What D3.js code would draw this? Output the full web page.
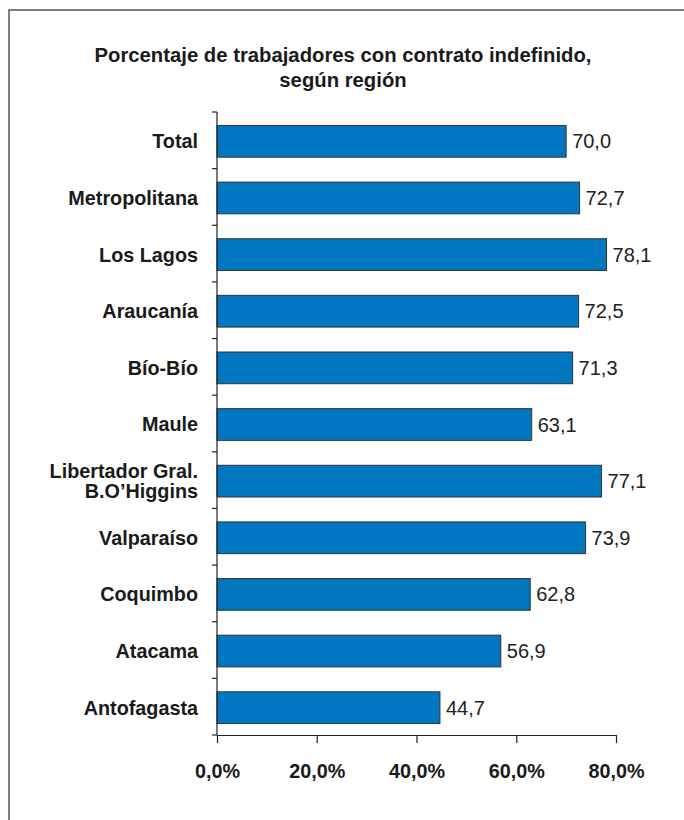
<!DOCTYPE html>
<html>
<head>
<meta charset="utf-8">
<script src="https://cdn.jsdelivr.net/npm/d3@7"></script>
<style>
  body { margin: 0; background: #fff; }
  svg { font-family: "Liberation Sans", Arial, sans-serif; }
</style>
</head>
<body>
<div id="chart"></div>
<script>
// Data
var regions = ["Total", "Metropolitana", "Los Lagos", "Araucanía", "Bío-Bío", "Maule",
    "Libertador Gral.|B.O’Higgins", "Valparaíso", "Coquimbo", "Atacama", "Antofagasta"];
var values = [70.0, 72.7, 78.1, 72.5, 71.3, 63.1, 77.1, 73.9, 62.8, 56.9, 44.7];
var xTicks = [0, 20, 40, 60, 80];
var titleLines = ["Porcentaje de trabajadores con contrato indefinido,", "según región"];

function drawChart() {
    const width = 684;
    const height = 820;
    const data = regions.map((r, i) => ({ region: r, value: values[i] }));

    const svg = d3.select("#chart")
        .append("svg")
        .attr("width", width)
        .attr("height", height);

    // frame (top and left edges only)
    svg.append("path")
        .attr("d", "M9,820 V10 H684")
        .attr("fill", "none")
        .attr("stroke", "#555")
        .attr("stroke-width", 1.5);

    // title
    svg.append("g")
        .selectAll("text")
        .data(titleLines)
        .enter()
        .append("text")
        .attr("x", 343)
        .attr("y", (d, i) => 62 + i * 25)
        .attr("text-anchor", "middle")
        .attr("font-size", 20.3)
        .attr("font-weight", "bold")
        .attr("fill", "#1a1a1a")
        .text((d) => d);

    const x = d3.scaleLinear().domain([0, 80]).range([217, 616]);
    const y = d3.scaleBand()
        .domain(data.map((d) => d.region))
        .range([112, 735])
        .paddingInner(0.44)
        .paddingOuter(0.22);

    // bars
    svg.append("g")
        .selectAll("rect")
        .data(data)
        .enter()
        .append("rect")
        .attr("x", x(0))
        .attr("y", (d) => y(d.region) + 1)
        .attr("width", (d) => x(d.value) - x(0))
        .attr("height", y.bandwidth())
        .attr("fill", "#0077c0")
        .attr("stroke", "#333")
        .attr("stroke-width", 1);

    // value labels
    svg.append("g")
        .selectAll("text")
        .data(data)
        .enter()
        .append("text")
        .attr("x", (d) => x(d.value) + 6)
        .attr("y", (d) => y(d.region) + 1 + y.bandwidth() / 2)
        .attr("dy", "0.35em")
        .attr("font-size", 20)
        .attr("fill", "#222")
        .text((d) => d.value.toFixed(1).replace(".", ","));

    // y axis: line with ticks at band boundaries
    const step = y.step();
    const y0 = 112;
    const boundaries = d3.range(regions.length + 1).map((i) => y0 + i * step);
    const yAxis = svg.append("g").attr("stroke", "#222").attr("stroke-width", 1.2);
    yAxis.append("line")
        .attr("x1", x(0)).attr("x2", x(0))
        .attr("y1", y0).attr("y2", 735);
    yAxis.selectAll(".ytick")
        .data(boundaries)
        .enter()
        .append("line")
        .attr("class", "ytick")
        .attr("x1", x(0) - 5).attr("x2", x(0))
        .attr("y1", (d) => d).attr("y2", (d) => d);

    // category labels
    svg.append("g")
        .selectAll("text")
        .data(data)
        .enter()
        .append("text")
        .attr("x", 198)
        .attr("y", (d) => y(d.region) + 1 + y.bandwidth() / 2)
        .attr("text-anchor", "end")
        .attr("font-size", 19.8)
        .attr("font-weight", "bold")
        .attr("fill", "#1a1a1a")
        .each(function(d) {
            const lines = d.region.split("|");
            const t = d3.select(this);
            lines.forEach((line, i) => {
                t.append("tspan")
                    .attr("x", 198)
                    .attr("dy", i === 0 ? (0.35 - (lines.length - 1) * 0.5) + "em" : "1.0em")
                    .text(line);
            });
        });

    // x axis
    const xAxis = svg.append("g")
        .attr("transform", "translate(0,735)")
        .call(d3.axisBottom(x)
            .tickValues(xTicks)
            .tickSize(8)
            .tickSizeOuter(0)
            .tickPadding(21)
            .tickFormat((d) => d.toFixed(1).replace(".", ",") + "%"));
    xAxis.select(".domain").attr("stroke", "#222").attr("stroke-width", 1.2);
    xAxis.selectAll(".tick line").attr("stroke", "#222").attr("stroke-width", 1.2);
    xAxis.selectAll(".tick text")
        .attr("font-size", 19.8)
        .attr("font-weight", "bold")
        .attr("fill", "#1a1a1a")
        .attr("font-family", "Liberation Sans, Arial, sans-serif");
}

drawChart();
</script>
</body>
</html>
